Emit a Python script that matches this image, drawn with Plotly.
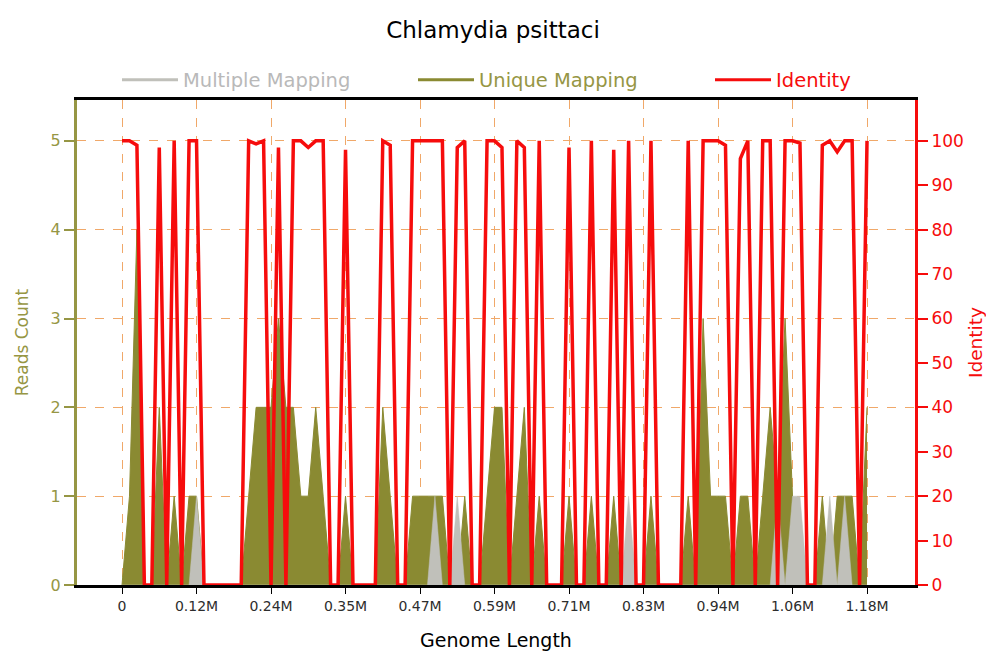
import plotly.graph_objects as go

# ---------------- data ----------------
bin_step = 11800          # genome bin size (bp)
n_points = 101
positions = [i * bin_step for i in range(n_points)]

unique_mapping = [
    0, 1, 4, 0, 0, 2, 0, 1, 0, 1,
    1, 0, 0, 0, 0, 0, 0, 1, 2, 2,
    2, 3, 2, 2, 1, 1, 2, 1, 0, 0,
    1, 0, 0, 0, 0, 2, 1, 0, 0, 1,
    1, 1, 1, 1, 0, 0, 1, 0, 0, 1,
    2, 2, 0, 1, 2, 0, 1, 0, 0, 0,
    1, 0, 0, 1, 0, 0, 1, 0, 0, 0,
    0, 1, 0, 0, 0, 0, 1, 0, 3, 1,
    1, 1, 0, 1, 1, 0, 1, 2, 1, 3,
    1, 0, 0, 0, 1, 0, 1, 1, 1, 0,
    2,
]

multiple_mapping = [
    0, 0, 0, 0, 0, 0, 0, 0, 0, 0,
    1, 0, 0, 0, 0, 0, 0, 0, 0, 0,
    0, 0, 0, 0, 0, 0, 0, 0, 0, 0,
    0, 0, 0, 0, 0, 0, 0, 0, 0, 0,
    0, 0, 1, 0, 0, 1, 0, 0, 0, 0,
    0, 0, 0, 0, 0, 0, 0, 0, 0, 0,
    0, 0, 0, 0, 0, 0, 0, 0, 1, 0,
    0, 0, 0, 0, 0, 0, 0, 0, 0, 0,
    0, 0, 0, 0, 0, 0, 0, 0, 1, 0,
    1, 1, 0, 0, 0, 1, 0, 1, 0, 0,
    0,
]

identity = [
    100, 100, 99, 0, 0, 98.5, 0, 100, 0, 100,
    100, 0, 0, 0, 0, 0, 0, 100, 99.3, 100,
    0, 98.5, 0, 100, 100, 98.5, 100, 100, 0, 0,
    98, 0, 0, 0, 0, 100, 99, 0, 0, 100,
    100, 100, 100, 100, 0, 98.5, 100, 0, 0, 100,
    100, 98.5, 0, 100, 98.5, 0, 100, 0, 0, 0,
    98.5, 0, 0, 100, 0, 0, 98, 0, 100, 0,
    0, 100, 0, 0, 0, 0, 100, 0, 100, 100,
    100, 99, 0, 96, 100, 0, 100, 100, 0, 100,
    100, 99.5, 0, 0, 99, 100, 97.5, 100, 100, 0,
    100,
]

tick_values = [0, 118000, 236000, 354000, 472000, 590000,
               708000, 826000, 944000, 1062000, 1180000]
tick_labels = ["0", "0.12M", "0.24M", "0.35M", "0.47M", "0.59M",
               "0.71M", "0.83M", "0.94M", "1.06M", "1.18M"]
reads_ticks = [0, 1, 2, 3, 4, 5]
identity_ticks = [0, 10, 20, 30, 40, 50, 60, 70, 80, 90, 100]

# ---------------- style ----------------
OLIVE = "rgb(138,138,50)"
OLIVE_TXT = "rgb(150,150,68)"
GREY = "rgb(192,192,186)"
GREY_TXT = "rgb(185,185,185)"
RED = "rgb(246,12,12)"
GRID = "rgb(240,168,105)"
FONT = "DejaVu Sans, Verdana, sans-serif"

fig = go.Figure()

# data traces
fig.add_trace(go.Scatter(
    x=positions, y=unique_mapping, mode="lines",
    line=dict(color=OLIVE, width=1), fill="tozeroy", fillcolor=OLIVE,
    showlegend=False, legendgroup="u", name="Unique Mapping"))
fig.add_trace(go.Scatter(
    x=positions, y=multiple_mapping, mode="lines",
    line=dict(color=GREY, width=0.5), fill="tozeroy", fillcolor=GREY,
    showlegend=False, legendgroup="m", name="Multiple Mapping"))
fig.add_trace(go.Scatter(
    x=positions, y=identity, mode="lines", yaxis="y2",
    line=dict(color=RED, width=3.5), showlegend=False,
    legendgroup="i", name="Identity"))

# legend entries (line style), one legend per entry for free placement
fig.add_trace(go.Scatter(
    x=[None], y=[None], mode="lines", line=dict(color=GREY, width=3),
    name=f"<span style='color:{GREY_TXT}'>Multiple Mapping</span>",
    legendgroup="m", legend="legend"))
fig.add_trace(go.Scatter(
    x=[None], y=[None], mode="lines", line=dict(color=OLIVE, width=3),
    name=f"<span style='color:{OLIVE_TXT}'>Unique Mapping</span>",
    legendgroup="u", legend="legend2"))
fig.add_trace(go.Scatter(
    x=[None], y=[None], mode="lines", line=dict(color=RED, width=3),
    yaxis="y2",
    name=f"<span style='color:{RED}'>Identity</span>",
    legendgroup="i", legend="legend3"))

legend_y = (585 - 80) / 485


def legend_box(xpx):
    return dict(orientation="h", x=(xpx - 77) / 838, xanchor="left",
                y=legend_y, yanchor="middle", itemwidth=56,
                font=dict(family=FONT, size=19.5),
                bgcolor="rgba(0,0,0,0)")


fig.update_layout(
    width=986, height=653,
    margin=dict(l=77, r=71, t=100, b=68),
    plot_bgcolor="white", paper_bgcolor="white",
    font=dict(family=FONT),
    title=dict(text="Chlamydia psittaci", x=0.5, xanchor="center",
               y=1 - 30 / 653, yanchor="middle",
               font=dict(family=FONT, size=23, color="black")),
    legend=legend_box(117),
    legend2=legend_box(413),
    legend3=legend_box(710),
    xaxis=dict(range=[-71300, 1256000], tickvals=tick_values,
               ticktext=tick_labels, showline=True, linecolor="black",
               linewidth=2.5, mirror=True, ticks="outside", ticklen=6,
               tickcolor="black", showgrid=True, gridcolor=GRID,
               griddash="dash", gridwidth=1, zeroline=False,
               layer="below traces", automargin=False,
               tickfont=dict(family=FONT, size=14, color="rgb(45,45,45)"),
               title=dict(text="Genome Length", standoff=22,
                          font=dict(family=FONT, size=19, color="black"))),
    yaxis=dict(range=[0, 5.46], tickvals=reads_ticks, showline=True,
               linecolor=OLIVE_TXT, linewidth=3, ticks="outside",
               ticklen=10, tickwidth=2, tickcolor=OLIVE_TXT,
               showgrid=True, gridcolor=GRID, griddash="dash",
               gridwidth=1, zeroline=False, layer="below traces",
               automargin=False,
               tickfont=dict(family=FONT, size=16, color=OLIVE_TXT),
               title=dict(text="Reads Count", standoff=18,
                          font=dict(family=FONT, size=17, color=OLIVE_TXT))),
    yaxis2=dict(overlaying="y", side="right", range=[0, 109.2],
                tickvals=identity_ticks, showline=True, linecolor=RED,
                linewidth=3, ticks="outside", ticklen=10, tickwidth=2,
                tickcolor=RED, showgrid=False, zeroline=False,
                layer="below traces", automargin=False,
                tickfont=dict(family=FONT, size=17, color=RED),
                title=dict(text="Identity", standoff=8,
                           font=dict(family=FONT, size=18.5, color=RED))),
)

fig.write_html("out.html", post_script="document.body.style.margin='0';",
               config={"displayModeBar": False})
